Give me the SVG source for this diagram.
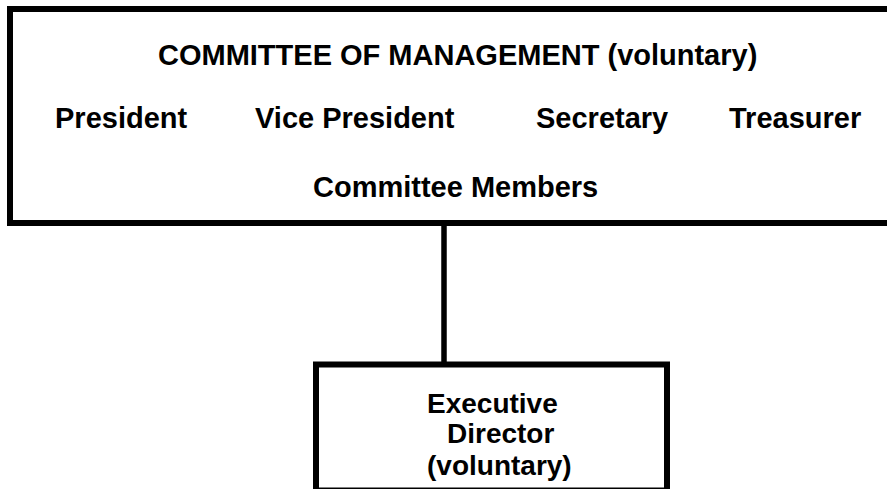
<svg xmlns="http://www.w3.org/2000/svg" width="887" height="489" viewBox="0 0 887 489">
<style>
.box{fill:#fff;stroke:#000;stroke-width:6}
.t{font-family:"Liberation Sans",Arial,sans-serif;font-weight:bold;font-size:29px;fill:#000}
.e{font-size:28px}
.c{stroke:#000;stroke-width:5.5;fill:none}
</style>
<rect width="887" height="489" fill="#fff"/>
<g id="committee">
<rect class="box" x="10" y="9" width="890" height="214"/>
<text class="t" x="158" y="65">COMMITTEE OF MANAGEMENT (voluntary)</text>
<text class="t" x="55" y="128">President</text>
<text class="t" x="255" y="128">Vice President</text>
<text class="t" x="536" y="128">Secretary</text>
<text class="t" x="729" y="128">Treasurer</text>
<text class="t" x="313" y="197">Committee Members</text>
</g>
<g id="connectors">
<line class="c" x1="444" y1="223" x2="444" y2="365"/>
</g>
<g id="executive">
<rect class="box" x="316" y="364.5" width="351" height="126" stroke-width="5.6"/>
<text class="t e" x="427" y="413">Executive</text>
<text class="t e" x="447" y="443">Director</text>
<text class="t e" x="427" y="475">(voluntary)</text>
</g>
</svg>
